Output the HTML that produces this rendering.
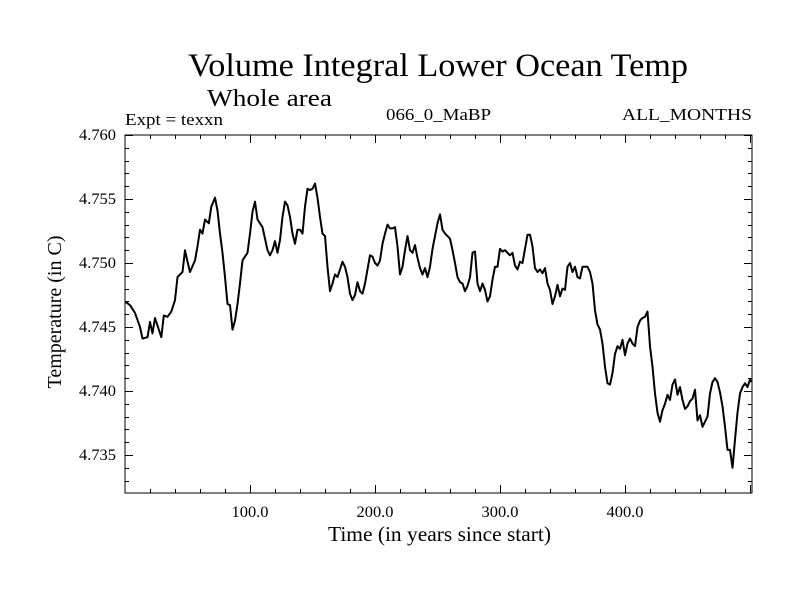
<!DOCTYPE html>
<html><head><meta charset="utf-8"><style>
body{margin:0;background:#fff;}
svg text{font-family:"Liberation Serif",serif;fill:#000;}
</style></head><body>
<svg id="chart" width="800" height="600" xmlns="http://www.w3.org/2000/svg">
<rect width="800" height="600" fill="#fff"/>
<text x="188" y="76" font-size="33" textLength="500" lengthAdjust="spacingAndGlyphs">Volume Integral Lower Ocean Temp</text>
<text x="207" y="106" font-size="24" textLength="125" lengthAdjust="spacingAndGlyphs">Whole area</text>
<text x="125" y="125" font-size="17" textLength="98" lengthAdjust="spacingAndGlyphs">Expt = texxn</text>
<text x="386" y="120" font-size="17" textLength="105" lengthAdjust="spacingAndGlyphs">066_0_MaBP</text>
<text x="622" y="120" font-size="17" textLength="130" lengthAdjust="spacingAndGlyphs">ALL_MONTHS</text>
<text x="328" y="541" font-size="21" textLength="223" lengthAdjust="spacingAndGlyphs">Time (in years since start)</text>
<text transform="translate(61,312) rotate(-90)" font-size="20" text-anchor="middle">Temperature (in C)</text>
<g id="ticks"></g>
<path id="series" fill="none" stroke="#000" stroke-width="2" stroke-linejoin="round"/>
<rect x="125" y="135" width="627" height="358" fill="none" stroke="#000" stroke-width="1"/>
</svg>
<script>
const years=[0,4,8,12,14,18,20,22,24,27,29,31,34,37,40,42,46,48,50,52,56,58,60,62,64,67,69,72,74,76,78,80,82,84,86,88,90,92,94,96,98,100,102,104,106,108,110,112,114,116,118,120,122,124,126,128,130,132,134,136,138,140,142,144,146,148,150,152,154,156,158,160,162,164,166,168,170,172,174,176,178,180,182,184,186,188,190,192,194,196,198,200,202,204,206,208,210,212,214,216,218,220,222,224,226,228,230,232,234,236,238,240,242,244,246,248,250,252,254,256,258,260,262,264,266,268,270,272,274,276,278,280,282,284,286,288,290,292,294,296,298,300,302,304,306,308,310,312,314,316,318,320,322,324,326,328,330,332,334,336,338,340,342,344,346,348,350,352,354,356,358,360,362,364,366,368,370,372,374,376,378,380,382,384,386,388,390,392,394,396,398,400,402,404,406,408,410,412,414,416,418,420,422,424,426,428,430,432,434,436,438,440,442,444,446,448,450,452,454,456,458,460,462,464,466,468,470,472,474,476,478,480,482,484,486,488,490,492,494,496,498,500,501];
const temps=[4.7470,4.7467,4.7461,4.7450,4.7441,4.7442,4.7454,4.7445,4.7457,4.7448,4.7442,4.7459,4.7458,4.7462,4.7471,4.7489,4.7493,4.7510,4.7501,4.7493,4.7502,4.7513,4.7526,4.7523,4.7534,4.7531,4.7544,4.7551,4.7541,4.7523,4.7508,4.7489,4.7468,4.7467,4.7448,4.7455,4.7468,4.7484,4.7502,4.7505,4.7508,4.7523,4.7540,4.7548,4.7534,4.7531,4.7528,4.7519,4.7510,4.7506,4.7510,4.7517,4.7508,4.7518,4.7536,4.7548,4.7545,4.7536,4.7523,4.7515,4.7526,4.7526,4.7523,4.7544,4.7558,4.7557,4.7558,4.7562,4.7551,4.7536,4.7523,4.7521,4.7497,4.7478,4.7484,4.7491,4.7489,4.7495,4.7501,4.7497,4.7489,4.7476,4.7471,4.7475,4.7485,4.7478,4.7476,4.7484,4.7495,4.7506,4.7505,4.7500,4.7498,4.7502,4.7515,4.7523,4.7530,4.7527,4.7527,4.7528,4.7513,4.7491,4.7497,4.7510,4.7521,4.7510,4.7508,4.7514,4.7504,4.7496,4.7491,4.7496,4.7489,4.7497,4.7511,4.7521,4.7531,4.7538,4.7526,4.7523,4.7521,4.7519,4.7510,4.7500,4.7489,4.7485,4.7484,4.7478,4.7482,4.7489,4.7508,4.7509,4.7484,4.7478,4.7484,4.7479,4.7470,4.7474,4.7487,4.7497,4.7497,4.7511,4.7509,4.7510,4.7508,4.7506,4.7508,4.7498,4.7495,4.7501,4.7500,4.7511,4.7522,4.7522,4.7513,4.7496,4.7493,4.7495,4.7492,4.7496,4.7484,4.7479,4.7468,4.7474,4.7483,4.7474,4.7480,4.7479,4.7497,4.7500,4.7493,4.7497,4.7489,4.7488,4.7497,4.7497,4.7497,4.7493,4.7484,4.7463,4.7452,4.7448,4.7437,4.7419,4.7406,4.7405,4.7414,4.7429,4.7435,4.7433,4.7440,4.7428,4.7437,4.7441,4.7437,4.7435,4.7450,4.7455,4.7457,4.7458,4.7462,4.7435,4.7419,4.7398,4.7383,4.7376,4.7385,4.7390,4.7397,4.7393,4.7405,4.7409,4.7397,4.7403,4.7393,4.7386,4.7388,4.7392,4.7394,4.7401,4.7377,4.7381,4.7372,4.7376,4.7380,4.7398,4.7407,4.7410,4.7407,4.7399,4.7388,4.7372,4.7354,4.7354,4.7340,4.7362,4.7383,4.7398,4.7403,4.7406,4.7403,4.7409,4.7407];
const xTickValues=[100,200,300,400];
const xTickLabels=["100.0","200.0","300.0","400.0"];
const yTickValues=[4.735,4.740,4.745,4.750,4.755,4.760];
const yTickLabels=["4.735","4.740","4.745","4.750","4.755","4.760"];

const L=125,R=752,T=135,B=493;
const xMin=0,xMax=501.6,yMin=4.73203,yMax=4.760;
function xs(v){return L+(v-xMin)/(xMax-xMin)*(R-L);}
function ys(v){return B-(v-yMin)/(yMax-yMin)*(B-T);}

const NS="http://www.w3.org/2000/svg";
const g=document.getElementById('ticks');
function line(x1,y1,x2,y2){const l=document.createElementNS(NS,'line');l.setAttribute('x1',x1);l.setAttribute('y1',y1);l.setAttribute('x2',x2);l.setAttribute('y2',y2);l.setAttribute('stroke','#000');l.setAttribute('stroke-width','1');


g.appendChild(l);}
function txt(x,y,s,anchor,name){const t=document.createElementNS(NS,'text');t.setAttribute('x',x);t.setAttribute('y',y);t.setAttribute('font-size','16');t.setAttribute('text-anchor',anchor);t.setAttribute('textLength','37');t.setAttribute('lengthAdjust','spacingAndGlyphs');t.textContent=s;


g.appendChild(t);}
for(let v=20;v<xMax;v+=20){const x=Math.round(xs(v))+0.5;const major=v%100===0;const len=major?8:4;line(x,B,x,B-len);line(x,T,x,T+len);}
xTickValues.forEach((v,i)=>txt(xs(v),517,xTickLabels[i],'middle','x-tick-label'));
for(let k=0;k<=28;k++){const v=4.733+k*0.001;if(v>yMax+1e-9)break;const y=Math.round(ys(v))+0.5;const r=Math.round(v*1000)%5;const len=r===0?8:4;line(L,y,L+len,y);line(R,y,R-len,y);}
yTickValues.forEach((v,i)=>txt(116,ys(v)+5,yTickLabels[i],'end','y-tick-label'));

let d='';
years.forEach((yr,i)=>{d+=(i?'L':'M')+xs(yr).toFixed(1)+' '+ys(temps[i]).toFixed(1);});
document.getElementById('series').setAttribute('d',d);
</script>
</body></html>
